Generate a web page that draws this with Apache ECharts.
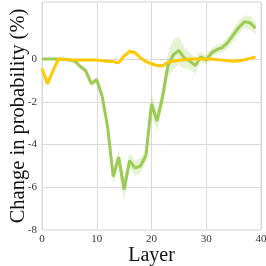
<!DOCTYPE html>
<html><head><meta charset="utf-8">
<script src="https://cdn.jsdelivr.net/npm/echarts@6/dist/echarts.min.js"></script>
<style>html,body{margin:0;padding:0;background:#fff}#c{width:266px;height:266px}</style>
</head><body><div id="c"></div>
<script>
const layers = Array.from({length: 40}, (_, i) => i);
const greenMean = [0,0,0,0,0,-0.05,-0.1,-0.35,-0.55,-1.15,-0.97,-1.75,-3.2,-5.5,-4.6,-6.1,-4.75,-5.1,-5.0,-4.5,-2.1,-2.9,-1.8,-0.3,0.2,0.4,0.05,-0.1,-0.3,0.1,-0.05,0.3,0.45,0.55,0.8,1.15,1.5,1.75,1.7,1.45];
const greenErr = [0.04,0.04,0.04,0.04,0.05,0.06,0.08,0.1,0.12,0.15,0.15,0.15,0.25,0.35,0.35,0.55,0.35,0.35,0.35,0.35,0.5,0.45,0.45,0.55,0.7,0.65,0.5,0.4,0.4,0.25,0.2,0.2,0.2,0.22,0.25,0.28,0.3,0.3,0.3,0.3];
const yellowMean = [-0.45,-1.15,-0.55,0,-0.02,-0.03,-0.05,-0.05,-0.05,-0.05,-0.05,-0.08,-0.1,-0.12,-0.18,0.15,0.35,0.3,0.05,-0.12,-0.22,-0.3,-0.32,-0.15,-0.1,-0.06,-0.03,0,0,0,0,0,-0.03,-0.05,-0.08,-0.1,-0.08,-0.03,0.03,0.1];
const yellowErr = [0.08,0.12,0.08,0.03,0.03,0.03,0.03,0.03,0.03,0.03,0.03,0.03,0.04,0.05,0.06,0.1,0.12,0.1,0.06,0.05,0.05,0.05,0.05,0.04,0.04,0.03,0.03,0.03,0.03,0.03,0.03,0.03,0.03,0.03,0.03,0.04,0.04,0.04,0.05,0.05];
const xTicks = [0,10,20,30,40];
const yTicks = [-8,-6,-4,-2,0];
const yGridLines = [-6,-4,-2,0];

const GREEN = '#9bcb52', YELLOW = '#ffc800';
const pts = (arr) => layers.map((l, i) => [l, arr[i]]);
function band(mean, err, color) {
  const rows = layers.map((l, i) => [l, mean[i] - err[i], mean[i] + err[i]]);
  return {
    type:'custom', silent:true, z:1,
    data: [0],
    renderItem: (params, api) => {
      const upper = rows.map(r => api.coord([r[0], r[2]]));
      const lower = rows.map(r => api.coord([r[0], r[1]])).reverse();
      return {type:'polygon', shape:{points: upper.concat(lower)}, style:{fill: color}};
    }
  };
}
const chart = echarts.init(document.getElementById('c'), null, {renderer:'canvas'});
const serif = 'Liberation Serif';
chart.setOption({
  animation:false,
  grid:{left:42, right:5, top:2, bottom:36, show:true, borderColor:'#d4d4d4', borderWidth:1, containLabel:false, outerBoundsMode:'none'},
  xAxis:{type:'value', min:0, max:40, interval:10,
    name:'Layer', nameLocation:'middle', nameGap:16, nameMoveOverlap:false, nameTextStyle:{fontFamily:serif, fontSize:20, color:'#111'},
    axisLine:{show:false}, axisTick:{show:false},
    axisLabel:{fontFamily:serif, fontSize:11, color:'#333', margin:4, formatter:v=>xTicks.includes(v)?String(v):''},
    splitLine:{show:true, lineStyle:{color:'#d9d9d9', width:1}}},
  yAxis:{type:'value', min:-8, max:2.67, interval:2,
    name:'Change in probability (%)', nameLocation:'middle', nameGap:13, nameMoveOverlap:false, nameTextStyle:{fontFamily:serif, fontSize:20.5, color:'#111'},
    axisLine:{show:false}, axisTick:{show:false},
    axisLabel:{fontFamily:serif, fontSize:11, color:'#333', margin:5, formatter:v=>yTicks.includes(v)?String(v):''},
    splitLine:{show:false}},
  series:[
    band(greenMean, greenErr, 'rgba(155,203,82,0.25)'),
    band(yellowMean, yellowErr, 'rgba(255,200,0,0.3)'),
    {type:'line', data: pts(greenMean), symbol:'none', lineStyle:{color:GREEN, width:3}, z:3,
      markLine:{silent:true, symbol:'none', label:{show:false}, lineStyle:{color:'#d9d9d9', width:1, type:'solid'},
        data: yGridLines.map(v=>({yAxis:v})), z:0}},
    {type:'line', data: pts(yellowMean), symbol:'none', lineStyle:{color:YELLOW, width:3}, z:4}
  ]
});
</script></body></html>
